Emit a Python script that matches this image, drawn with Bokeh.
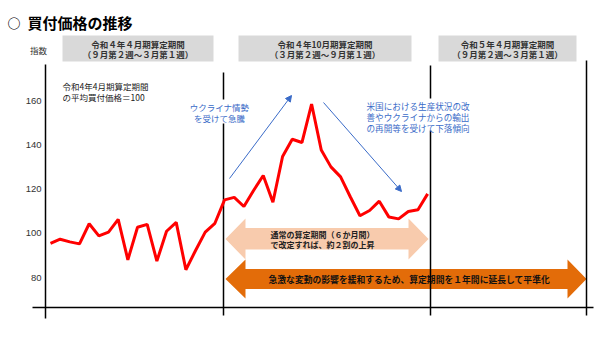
from bokeh.plotting import figure
from bokeh.models import Range1d, Arrow, NormalHead
from bokeh.core.properties import value
from bokeh.embed import file_html
from bokeh.resources import INLINE

# ---- data ----
weeks = list(range(1, 41))
prices = [95.4, 97.3, 96.1, 95.2, 104.3, 98.8, 100.5, 106.3, 88.0, 102.7,
          104.0, 87.4, 100.9, 104.9, 83.5, 92.2, 100.5, 104.5, 115.1, 116.2,
          112.1, 119.3, 126.1, 114.0, 134.7, 142.5, 141.0, 158.4, 137.6, 130.0,
          125.5, 116.5, 107.9, 110.3, 114.5, 107.3, 106.5, 109.8, 110.6, 117.8]
y_ticks = [80, 100, 120, 140, 160]
y_tick_labels = ["80", "100", "120", "140", "160"]
period_line1 = ["令和４年４月期算定期間", "令和４年10月期算定期間", "令和５年４月期算定期間"]
period_line2 = ["（９月第２週～３月第１週）", "（３月第２週～９月第１週）", "（９月第２週～３月第１週）"]

FONT = value("Noto Sans CJK JP")

# layout helpers (pixel layout -> data units)
X0, DX = 50.0, 9.67
def dx(px):
    return 1 + (px - X0) / DX
def dy(py):
    return 160 - (py - 100) * 80.0 / 177.0

p = figure(width=600, height=337, x_range=Range1d(dx(0), dx(600)),
           y_range=Range1d(dy(337), dy(0)), output_backend="svg",
           toolbar_location=None, min_border=0)
p.min_border_left = p.min_border_right = p.min_border_top = p.min_border_bottom = 0
p.axis.visible = False
p.grid.visible = False
p.outline_line_color = None
p.background_fill_color = "white"

# header boxes
box_l = [62, 238, 438]
box_r = [213, 411, 576]
p.quad(left=[dx(v) for v in box_l], right=[dx(v) for v in box_r],
       top=dy(35), bottom=dy(61), fill_color="#D9D9D9", line_color=None)
for i in range(3):
    cx = dx((box_l[i] + box_r[i]) / 2)
    p.text(x=[cx], y=[dy(43.5)], text=[period_line1[i]], text_font=FONT,
           text_font_size="8.5px", text_font_style="bold", text_color="#333333",
           text_align="center", text_baseline="middle")
    p.text(x=[cx], y=[dy(53.5)], text=[period_line2[i]], text_font=FONT,
           text_font_size="8.5px", text_font_style="bold", text_color="#333333",
           text_align="center", text_baseline="middle")

# block arrows
def poly(pts):
    return [dx(a) for a, b in pts], [dy(b) for a, b in pts]

lx, ly = poly([(225, 238.5), (245, 218), (245, 227.5), (408, 227.5), (408, 218),
               (428, 238.5), (408, 259), (408, 249), (245, 249), (245, 259)])
p.patch(lx, ly, fill_color="#F8CBAD", line_color=None)
ox, oy = poly([(225, 278.5), (245, 259), (245, 268.5), (567, 268.5), (567, 259),
               (586, 278.5), (567, 298), (567, 288.5), (245, 288.5), (245, 298)])
p.patch(ox, oy, fill_color="#E36C09", line_color=None)

p.text(x=[dx(270)], y=[dy(233.5)], text=["通常の算定期間（６か月間）"], text_font=FONT,
       text_font_size="8px", text_font_style="bold", text_color="#222222",
       text_baseline="middle")
p.text(x=[dx(270)], y=[dy(243.5)], text=["で改定すれば、約２割の上昇"], text_font=FONT,
       text_font_size="8px", text_font_style="bold", text_color="#222222",
       text_baseline="middle")
p.text(x=[dx(268)], y=[dy(278.5)],
       text=["急激な変動の影響を緩和するため、算定期間を１年間に延長して平準化"],
       text_font=FONT, text_font_size="8.8px", text_font_style="bold",
       text_color="#111111", text_baseline="middle")

# axes and period dividers (dividers are interrupted by the comment boxes)
seg_x = [45, 223, 223, 430, 430, 586]
seg_y0 = [64, 72, 123, 65, 130, 60]
seg_y1 = [318, 99, 315, 98, 315, 315]
p.segment(x0=[dx(v) for v in seg_x], y0=[dy(v) for v in seg_y0],
          x1=[dx(v) for v in seg_x], y1=[dy(v) for v in seg_y1],
          line_color="black", line_width=1.5)
p.segment(x0=[dx(32)], y0=[dy(307)], x1=[dx(593)], y1=[dy(307)],
          line_color="black", line_width=1.5)

# y tick labels
p.text(x=[dx(41)] * len(y_ticks), y=y_ticks, text=y_tick_labels, text_font=value("Liberation Sans"),
       text_font_size="9.5px", text_color="#333333", text_align="right",
       text_baseline="middle")
p.text(x=[dx(38)], y=[dy(49)], text=["指数"], text_font=FONT, text_font_size="8.5px",
       text_color="#333333", text_align="center", text_baseline="middle")

# price line
p.line(weeks, prices, line_color="#FF0000", line_width=3)

# annotations
p.text(x=[dx(62)], y=[dy(85)], text=["令和4年4月期算定期間"], text_font=FONT,
       text_font_size="8.5px", text_color="#222222", text_baseline="middle")
p.text(x=[dx(62)], y=[dy(96)], text=["の平均買付価格＝100"], text_font=FONT,
       text_font_size="8.5px", text_color="#222222", text_baseline="middle")

BLUE = "#3A6BC8"
p.text(x=[dx(219)], y=[dy(106)], text=["ウクライナ情勢"], text_font=FONT,
       text_font_size="8.5px", text_color=BLUE, text_align="center", text_baseline="middle")
p.text(x=[dx(219)], y=[dy(117)], text=["を受けて急騰"], text_font=FONT,
       text_font_size="8.5px", text_color=BLUE, text_align="center", text_baseline="middle")
for k, t in enumerate(["米国における生産状況の改", "善やウクライナからの輸出", "の再開等を受けて下落傾向"]):
    p.text(x=[dx(366)], y=[dy(105 + 11 * k)], text=[t], text_font=FONT,
           text_font_size="8.6px", text_color=BLUE, text_baseline="middle")

p.add_layout(Arrow(end=NormalHead(size=6, fill_color=BLUE, line_color=BLUE),
                   x_start=dx(229), y_start=dy(178), x_end=dx(291), y_end=dy(95),
                   line_color=BLUE, line_width=1))
p.add_layout(Arrow(end=NormalHead(size=6, fill_color=BLUE, line_color=BLUE),
                   x_start=dx(323), y_start=dy(102), x_end=dx(401), y_end=dy(191),
                   line_color=BLUE, line_width=1))

# title
p.text(x=[dx(7)], y=[dy(22)], text=["○"], text_font=FONT, text_font_size="13px",
       text_font_style="bold", text_color="black", text_baseline="middle")
p.text(x=[dx(27)], y=[dy(22)], text=["買付価格の推移"], text_font=FONT, text_font_size="15px",
       text_font_style="bold", text_color="black", text_baseline="middle")

open("out.html", "w").write(file_html(p, INLINE))
